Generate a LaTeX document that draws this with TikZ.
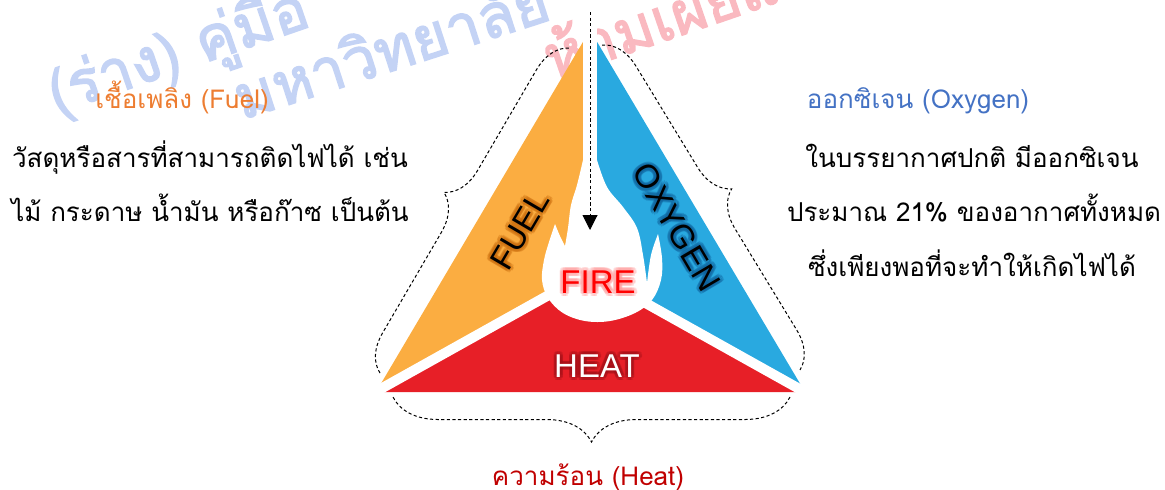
\documentclass[tikz,border=0pt]{standalone}
\usepackage{fontspec}
\newfontfamily\thaifont[Script=Thai]{Loma}
\newfontfamily\wmfont[Script=Thai, FakeBold=2.5]{Loma}
\newfontfamily\labfont{Liberation Sans}
\usetikzlibrary{decorations.pathreplacing,arrows.meta}
\definecolor{fuelor}{HTML}{FBAD41}
\definecolor{oxyblue}{HTML}{29A9E0}
\definecolor{heatred}{HTML}{E71F27}
\definecolor{titleor}{HTML}{ED7D31}
\definecolor{titleblue}{HTML}{4472C4}
\definecolor{titlered}{HTML}{C00000}
\definecolor{wmblue}{HTML}{C4D3F5}
\definecolor{wmpink}{HTML}{FAB9C0}
\definecolor{fuelglow}{HTML}{C8690A}
\definecolor{oxyglow}{HTML}{0E5F9A}
\definecolor{fireglow}{HTML}{FF9A9A}
\definecolor{heatglow}{HTML}{A01018}

% label with a soft halo: name, position, rotation, halo colour, text colour, text
\newcommand\glowlabel[6]{%
  \foreach \ga in {0,30,...,330}{%
    \node[lab,text=#4,opacity=0.3,rotate=#3] (#1-g\ga) at ([shift={(\ga:1.6pt)}]#2) {#6};}
  \node[lab,text=#5,rotate=#3] (#1) at (#2) {#6};}

\begin{document}
\begin{tikzpicture}[x=0.5pt,y=-0.5pt,
  thaitext/.style={font=\thaifont\fontsize{13}{15}\selectfont, inner sep=0pt, anchor=base},
  watermark/.style={font=\wmfont\fontsize{30}{33}\selectfont, inner sep=0pt, anchor=base west},
  lab/.style={font=\labfont\fontsize{16.5}{18}\selectfont, inner sep=0pt},
  guide/.style={draw=black, line width=0.5pt, dash pattern=on 1.6pt off 1.2pt},
  bracket/.style={guide, decorate},
  gapline/.style={draw=white, line cap=butt},
]
\useasboundingbox (0,0) rectangle (1165,489);

% background watermark
\begin{scope}
  \clip (0,0) rectangle (1165,489);
  \node[watermark, text=wmblue, rotate=19] (wmone) at (56,114) {(ร่าง) คู่มือ};
  \node[watermark, text=wmblue, rotate=18] (wmtwo) at (242,120) {มหาวิทยาลัย};
  \node[watermark, text=wmpink, rotate=19] (wmthree) at (552,80) {ห้ามเผยแพร่};
\end{scope}

% the three sides of the fire triangle
\fill[fuelor]  (590,30) -- (376,392) -- (590,272) -- cycle;
\fill[oxyblue] (590,30) -- (805,392) -- (590,272) -- cycle;
\fill[heatred] (376,392) -- (805,392) -- (590,272) -- cycle;

% white gaps between the sides
\draw[gapline, line width=7pt] (590,20) -- (590,272);
\draw[gapline, line width=5pt] (590,272) -- (368,396);
\draw[gapline, line width=5pt] (590,272) -- (812,396);

% white flame in the middle
\fill[white] (590,120)
  -- plot[smooth,tension=0.6] coordinates {(597,160) (607,187) (623,207) (637,228) (643,255) (647,283)}
  -- plot[smooth,tension=0.6] coordinates {(647,283) (651,255) (658,234)}
  -- plot[smooth,tension=0.6] coordinates {(658,234) (662,258) (661,280) (652,300) (635,313) (610,321) (585,321) (563,313) (548,298) (542,280) (544,260) (549,242) (555,224)}
  -- plot[smooth,tension=0.6] coordinates {(555,224) (560,236) (565,246)}
  -- plot[smooth,tension=0.6] coordinates {(565,246) (568,228) (571,205) (577,185) (583,160)}
  -- (583,120) -- cycle;

% labels inside the triangle
\glowlabel{fuel}{520,230}{59.5}{fuelglow}{black}{FUEL}
\glowlabel{oxygen}{677,227}{-59.5}{oxyglow}{black}{OXYGEN}
\glowlabel{fire}{598,282}{0}{fireglow}{red}{FIRE}
\glowlabel{heat}{597,366}{0}{heatglow}{white}{HEAT}

% dashed arrow from the top
\coordinate (arrtop) at (590,12);
\coordinate (arrtip) at (590,230);
\draw[guide, -{Triangle[length=7.5pt,width=7.5pt]}] (arrtop) -- (arrtip);

% dashed braces along the sides
\coordinate (lbA) at (380,373);
\coordinate (lbB) at (570,48);
\coordinate (rbA) at (602,45);
\coordinate (rbB) at (800,370);
\coordinate (bbA) at (790,397);
\coordinate (bbB) at (393,397);
\draw[bracket, decoration={brace, amplitude=18pt}] (lbA) -- (lbB);
\draw[bracket, decoration={brace, amplitude=18pt}] (rbA) -- (rbB);
\draw[bracket, decoration={brace, amplitude=22.5pt}] (bbA) -- (bbB);

% descriptions
\node[thaitext, text=titleor] (fueltitle) at (182,108) {เชื้อเพลิง (Fuel)};
\node[thaitext] (fuelone) at (210,167) {วัสดุหรือสารที่สามารถติดไฟได้ เช่น};
\node[thaitext] (fueltwo) at (210,221) {ไม้ กระดาษ น้ำมัน หรือก๊าซ เป็นต้น};

\node[thaitext, text=titleblue] (oxytitle) at (918,108) {ออกซิเจน (Oxygen)};
\node[thaitext] (oxyone) at (972,167) {ในบรรยากาศปกติ มีออกซิเจน};
\node[thaitext] (oxytwo) at (974,221) {ประมาณ 21\% ของอากาศทั้งหมด};
\node[thaitext] (oxythree) at (972,276) {ซึ่งเพียงพอที่จะทำให้เกิดไฟได้};

\node[thaitext, text=titlered] (heattitle) at (588,485) {ความร้อน (Heat)};
\end{tikzpicture}
\end{document}
